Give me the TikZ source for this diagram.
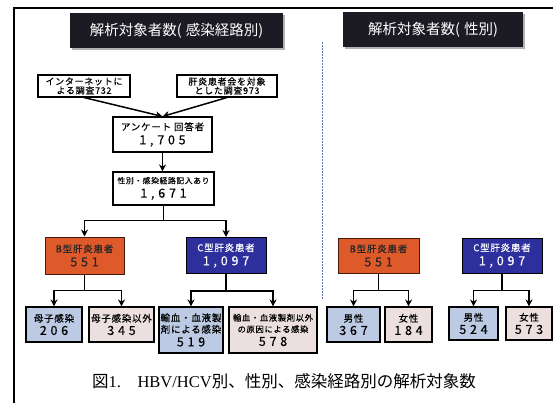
\documentclass[tikz,border=0pt]{standalone}
\usepackage{fontspec}
\setmainfont{Noto Sans CJK JP}
\newfontfamily\numf[LetterSpace=30,FakeBold=0.3]{Noto Sans CJK JP}
\newfontfamily\boxf[LetterSpace=8,FakeBold=0.4]{Noto Sans CJK JP}
\newfontfamily\latinserif{Liberation Serif}
\usetikzlibrary{arrows.meta}
\definecolor{titlebg}{HTML}{1C1A22}
\definecolor{borange}{HTML}{DF5A2B}
\definecolor{cblue}{HTML}{2D2F9C}
\definecolor{lblue}{HTML}{BCCBE3}
\definecolor{lpink}{HTML}{EBE0DF}
\definecolor{dashblue}{HTML}{5A7DB8}
\tikzset{
  titlebox/.style={fill=titlebg, text=white, inner sep=0pt, font=\fontsize{14.5}{16}\selectfont},
  plainbox/.style={draw=black, line width=1.1pt, fill=white, align=center, inner sep=1pt, font=\boxf\fontsize{9}{11}\selectfont},
  bbox/.style={draw=black!70!borange, line width=1pt, fill=borange, text=black!85, align=center, inner sep=1pt, font=\boxf\fontsize{9.5}{14}\selectfont},
  cbox/.style={draw=black, line width=1pt, fill=cblue, text=white, align=center, inner sep=1pt, font=\boxf\fontsize{9.5}{14}\selectfont},
  leafb/.style={draw=black, line width=1.1pt, fill=lblue, align=center, inner sep=0pt, font=\boxf\fontsize{9.5}{13}\selectfont},
  leafp/.style={draw=black, line width=1.1pt, fill=lpink, align=center, inner sep=0pt, font=\boxf\fontsize{9.5}{13}\selectfont},
  conn/.style={line width=1.5pt, -{Stealth[length=7pt,width=7pt]}},
}
\newcommand{\bignum}[1]{{\numf\fontsize{12.5}{14}\selectfont #1}}
\begin{document}
\begin{tikzpicture}[x=1pt,y=-1pt]
\useasboundingbox (0,0) rectangle (553,403);
\fill[white] (0,0) rectangle (553,403);
% frame
\draw[line width=1.5pt] (553,8) -- (14,8) -- (14,403);
% titles
\fill[gray!60] (72,15) rectangle (285,50);
\node[titlebox, minimum width=213pt, minimum height=35pt] (t1) at (176.5,30.5) {解析対象者数(\;感染経路別)};
\fill[gray!60] (345,14) rectangle (525,49);
\node[titlebox, minimum width=180pt, minimum height=35pt] (t2) at (433,29.5) {解析対象者数(\;性別)};
% dashed separator
\coordinate (d1) at (322,42);
\coordinate (d2) at (322,300);
\draw[dashblue, dashed, dash pattern=on 2pt off 1pt, line width=0.9pt] (d1) -- (d2);
% left tree
\node[plainbox, minimum width=92pt, minimum height=22pt] (n1) at (84,86) {インターネットに\\[-2pt]よる調査732};
\node[plainbox, minimum width=100pt, minimum height=22pt] (n2) at (227,86) {肝炎患者会を対象\\[-2pt]とした調査973};
\node[plainbox, minimum width=99pt, minimum height=35pt, font=\boxf\fontsize{9.5}{14}\selectfont] (n3) at (162.5,134.5) {アンケート 回答者\\\bignum{1,705}};
\node[plainbox, minimum width=101pt, minimum height=33pt, font=\boxf\fontsize{7.8}{14}\selectfont] (n4) at (163.5,188.5) {性別・感染経路記入あり\\\bignum{1,671}};
\node[bbox, minimum width=79pt, minimum height=37pt] (b1) at (84.5,255.5) {B型肝炎患者\\\bignum{551}};
\node[cbox, minimum width=80pt, minimum height=36pt] (c1) at (226,255.5) {C型肝炎患者\\\bignum{1,097}};
\node[leafb, minimum width=56pt, minimum height=35pt] (m1) at (54,324.5) {母子感染\\\bignum{206}};
\node[leafp, minimum width=65pt, minimum height=35pt] (m2) at (121.5,324.5) {母子感染以外\\\bignum{345}};
\node[leafb, minimum width=64pt, minimum height=46pt, font=\boxf\fontsize{9.5}{11.5}\selectfont] (m3) at (191,330) {輸血・血液製\\剤による感染\\[2pt]\bignum{519}};
\node[leafp, minimum width=88pt, minimum height=46pt, font=\boxf\fontsize{8.3}{11.5}\selectfont] (m4) at (273,330) {輸血・血液製剤以外\\の原因による感染\\[2pt]\bignum{578}};
% right tree
\node[bbox, minimum width=81pt, minimum height=35pt] (b2) at (378.5,255.5) {B型肝炎患者\\\bignum{551}};
\node[cbox, minimum width=80pt, minimum height=35pt] (c2) at (502,255.5) {C型肝炎患者\\\bignum{1,097}};
\node[leafb, minimum width=53pt, minimum height=35pt] (g1) at (353.5,324.5) {男性\\\bignum{367}};
\node[leafp, minimum width=47pt, minimum height=35pt] (g2) at (408.5,324.5) {女性\\\bignum{184}};
\node[leafb, minimum width=49pt, minimum height=33pt] (g3) at (473.5,323.5) {男性\\\bignum{524}};
\node[leafp, minimum width=46pt, minimum height=33pt] (g4) at (529,323.5) {女性\\\bignum{573}};
% connectors
\draw[conn] (n1.south) -- (n3.north);
\draw[conn] (n2.south) -- (n3.north);
\draw[conn] (n3.south) -- (n3.south |- n4.north);
\draw[conn] (n4.south) -- ++(0,15) -| (b1.north);
\draw[conn] (n4.south) -- ++(0,15) -| (c1.north);
\draw[conn] (b1.south) -- ++(0,16) -| (m1.north);
\draw[conn] (b1.south) -- ++(0,16) -| (m2.north);
\draw[conn] (c1.south) -- ++(0,17) -| (m3.north);
\draw[conn] (c1.south) -- ++(0,17) -| (m4.north);
\draw[conn] (b2.south) -- ++(0,17) -| (g1.north);
\draw[conn] (b2.south) -- ++(0,17) -| (g2.north);
\draw[conn] (c2.south) -- ++(0,17) -| (g3.north);
\draw[conn] (c2.south) -- ++(0,17) -| (g4.north);
% caption
\node[font=\fontsize{16.5}{18}\selectfont] (cap) at (284,381) {図{\latinserif 1.}\quad{\latinserif HBV/HCV}別、性別、感染経路別の解析対象数};
\end{tikzpicture}
\end{document}
